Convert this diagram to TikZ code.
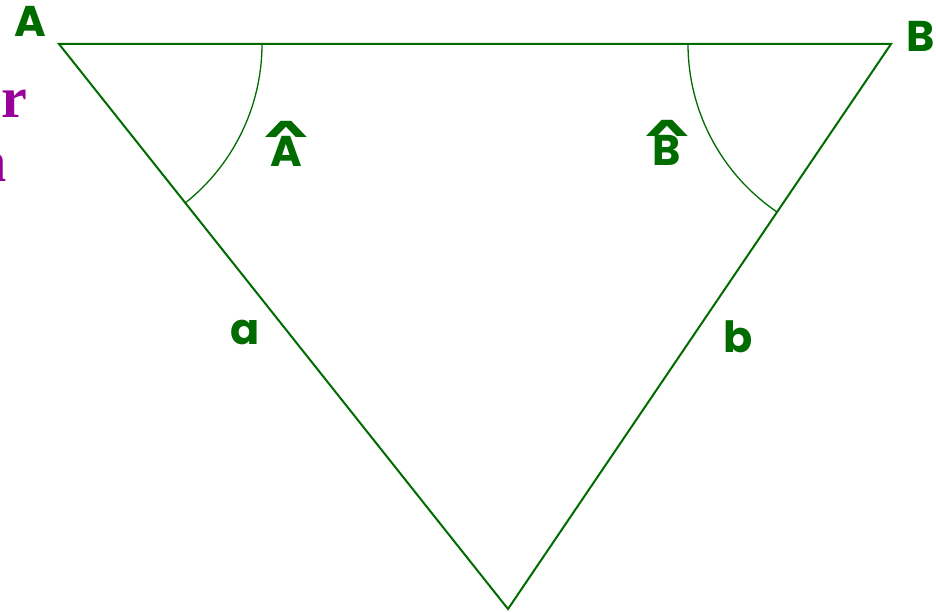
\documentclass[tikz,border=0pt]{standalone}
\usepackage{fontspec}
\usepackage{graphicx}
\setmainfont{Poppins}
\newfontfamily\serifbold{Liberation Serif}
\definecolor{tgreen}{RGB}{0,108,0}
\definecolor{tpurple}{RGB}{153,0,153}
\newcommand\hatted[1]{\setbox0\hbox{#1}\hbox to\wd0{\hss\raisebox{0.58em}{\scalebox{1.5}[0.7]{\textasciicircum}}\hss}\kern-\wd0\box0}
\begin{document}
\begin{tikzpicture}[x=1pt,y=1pt,
  side/.style={draw=tgreen,line width=2pt,line join=miter},
  anglearc/.style={draw=tgreen,line width=1.3pt},
  lbl/.style={text=tgreen,font=\fontsize{43}{43}\selectfont\bfseries,inner sep=0pt,anchor=base},
  cut/.style={text=tpurple,font=\fontsize{58}{58}\selectfont\serifbold\bfseries,inner sep=0pt}]
\useasboundingbox (0,0) rectangle (936,612);
\clip (0,0) rectangle (936,612);
\coordinate (A) at (59,568);
\coordinate (B) at (891,568);
\coordinate (C) at (508,3);
\draw[side] (A) -- (B) -- (C) -- cycle;
\draw[anglearc] (A) ++(0:203) arc[start angle=0,end angle=-51.5,radius=203];
\draw[anglearc] (B) ++(180:203) arc[start angle=180,end angle=235.9,radius=203];
\node[lbl] (lA) at (30,575) {A};
\node[lbl,anchor=base east] (lB) at (935,560) {B};
\node[lbl] (hA) at (286,445) {\hatted{A}};
\node[lbl] (hB) at (667,446) {\hatted{B}};
\node[lbl] (la) at (245,267) {a};
\node[lbl] (lb) at (738,259) {b};
\node[cut,anchor=base west] (pr) at (1,494) {r};
\node[cut,anchor=base east] (pn) at (7,430) {n};
\end{tikzpicture}
\end{document}
